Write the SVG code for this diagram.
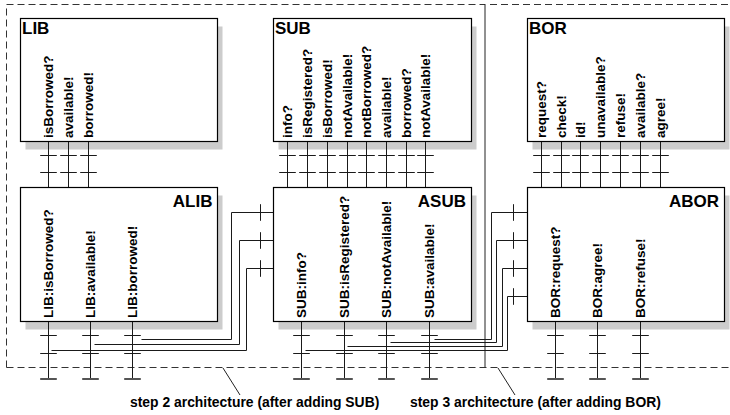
<svg xmlns="http://www.w3.org/2000/svg" width="730" height="415" viewBox="0 0 730 415">
<style>
.shadow{fill:#cccccc;stroke:none}
.box{fill:#ffffff;stroke:#000000;stroke-width:1.2}
.title{font-family:"Liberation Sans",Arial,sans-serif;font-weight:bold;font-size:17px;fill:#000}
.lbl{font-family:"Liberation Sans",Arial,sans-serif;font-weight:bold;font-size:13.5px;fill:#000}
.cap{font-family:"Liberation Sans",Arial,sans-serif;font-weight:bold;font-size:13.9px;fill:#000}
.ln{fill:none;stroke:#1a1a1a;stroke-width:1}
.end{fill:none;stroke:#555555;stroke-width:2}
.dash{fill:none;stroke:#333333;stroke-width:1;stroke-dasharray:7 4}
.solid{fill:none;stroke:#222222;stroke-width:1}
</style>

<g id="boundaries">
  <path class="dash" d="M6.5 367.5 V4.5 H485"/>
  <path class="solid" d="M485 4 V367"/>
  <path class="dash" d="M490 4.5 H730"/>
  <path class="dash" d="M6.5 367.5 H730"/>
  <path class="solid" d="M223 368 L240 395"/>
  <path class="solid" d="M498 368 L515 395"/>
</g>

<g id="shadows">
  <rect class="shadow" x="25.5" y="26.5" width="197" height="123"/>
  <rect class="shadow" x="278.5" y="26.5" width="198" height="123"/>
  <rect class="shadow" x="532.5" y="26.5" width="197" height="123"/>
  <rect class="shadow" x="25.5" y="195.5" width="197" height="134"/>
  <rect class="shadow" x="278.5" y="195.5" width="198" height="134"/>
  <rect class="shadow" x="532.5" y="195.5" width="197" height="134"/>
</g>

<g id="connectors">
  <!-- LIB to ALIB -->
  <path class="ln" d="M48.5 141.5 V187.5 M68.5 141.5 V187.5 M88.5 141.5 V187.5"/>
  <path class="ln" d="M40.2 155.5 H56.8 M60.2 155.5 H76.8 M80.2 155.5 H96.8 M40.2 172.5 H56.8 M60.2 172.5 H76.8 M80.2 172.5 H96.8"/>
  <!-- SUB to ASUB -->
  <path class="ln" d="M287.5 141.5 V187.5 M307.5 141.5 V187.5 M327.5 141.5 V187.5 M347.5 141.5 V187.5 M366.5 141.5 V187.5 M386.5 141.5 V187.5 M406.5 141.5 V187.5 M425.5 141.5 V187.5"/>
  <path class="ln" d="M279.2 155.5 H295.8 M299.2 155.5 H315.8 M319.2 155.5 H335.8 M339.2 155.5 H355.8 M358.2 155.5 H374.8 M378.2 155.5 H394.8 M398.2 155.5 H414.8 M417.2 155.5 H433.8"/>
  <path class="ln" d="M279.2 172.5 H295.8 M299.2 172.5 H315.8 M319.2 172.5 H335.8 M339.2 172.5 H355.8 M358.2 172.5 H374.8 M378.2 172.5 H394.8 M398.2 172.5 H414.8 M417.2 172.5 H433.8"/>
  <!-- BOR to ABOR -->
  <path class="ln" d="M541.5 141.5 V187.5 M561.5 141.5 V187.5 M580.5 141.5 V187.5 M600.5 141.5 V187.5 M620.5 141.5 V187.5 M640.5 141.5 V187.5 M660.5 141.5 V187.5"/>
  <path class="ln" d="M533.2 155.5 H549.8 M553.2 155.5 H569.8 M572.2 155.5 H588.8 M592.2 155.5 H608.8 M612.2 155.5 H628.8 M632.2 155.5 H648.8 M652.2 155.5 H668.8"/>
  <path class="ln" d="M533.2 172.5 H549.8 M553.2 172.5 H569.8 M572.2 172.5 H588.8 M592.2 172.5 H608.8 M612.2 172.5 H628.8 M632.2 172.5 H648.8 M652.2 172.5 H668.8"/>

  <!-- ALIB outputs -->
  <path class="ln" d="M48.5 321.5 V379 M90.5 321.5 V379 M132.5 321.5 V379"/>
  <path class="ln" d="M40.2 335.5 H56.8 M82.2 335.5 H98.8 M124.2 335.5 H140.8 M40.2 353.5 H56.8 M82.2 353.5 H98.8 M124.2 353.5 H140.8"/>
  <path class="end" d="M40.2 379 H56.8 M82.2 379 H98.8 M124.2 379 H140.8"/>
  <!-- ASUB outputs -->
  <path class="ln" d="M301.5 321.5 V379 M344.5 321.5 V379 M386.5 321.5 V379 M429.5 321.5 V379"/>
  <path class="ln" d="M293.2 335.5 H309.8 M336.2 335.5 H352.8 M378.2 335.5 H394.8 M421.2 335.5 H437.8 M293.2 353.5 H309.8 M336.2 353.5 H352.8 M378.2 353.5 H394.8 M421.2 353.5 H437.8"/>
  <path class="end" d="M293.2 379 H309.8 M336.2 379 H352.8 M378.2 379 H394.8 M421.2 379 H437.8"/>
  <!-- ABOR outputs -->
  <path class="ln" d="M555.5 321.5 V379 M597.5 321.5 V379 M640.5 321.5 V379"/>
  <path class="ln" d="M547.2 335.5 H563.8 M589.2 335.5 H605.8 M632.2 335.5 H648.8 M547.2 353.5 H563.8 M589.2 353.5 H605.8 M632.2 353.5 H648.8"/>
  <path class="end" d="M547.2 379 H563.8 M589.2 379 H605.8 M632.2 379 H648.8"/>

  <!-- ALIB to ASUB wiring -->
  <path class="ln" d="M141.5 339.5 H231.5 V212.5 H273.5"/>
  <path class="ln" d="M94.5 344.5 H239.5 V240.5 H273.5"/>
  <path class="ln" d="M51.5 350.5 H246.5 V268.5 H273.5"/>
  <path class="ln" d="M260.5 204.2 V220.8 M260.5 232.2 V248.8 M260.5 260.2 V276.8"/>

  <!-- ASUB to ABOR wiring -->
  <path class="ln" d="M434.5 339.5 H491.5 V212.5 H527.5"/>
  <path class="ln" d="M390.5 342.5 H496.5 V240.5 H527.5"/>
  <path class="ln" d="M347.5 346.5 H502.5 V268.5 H527.5"/>
  <path class="ln" d="M305.5 350.5 H507.5 V296.5 H527.5"/>
  <path class="ln" d="M513.5 204.2 V220.8 M513.5 232.2 V248.8 M513.5 260.2 V276.8 M513.5 288.2 V304.8"/>
</g>

<g id="LIB">
  <rect class="box" x="20.5" y="18.5" width="197" height="123"/>
  <text class="title" x="22" y="33.5">LIB</text>
  <text class="lbl" transform="translate(52.5,138) rotate(-90)">isBorrowed?</text>
  <text class="lbl" transform="translate(72.5,138) rotate(-90)">available!</text>
  <text class="lbl" transform="translate(92.5,138) rotate(-90)">borrowed!</text>
</g>

<g id="SUB">
  <rect class="box" x="273.5" y="18.5" width="198" height="123"/>
  <text class="title" x="275" y="33.5">SUB</text>
  <text class="lbl" transform="translate(291.5,138) rotate(-90)">info?</text>
  <text class="lbl" transform="translate(311.5,138) rotate(-90)">isRegistered?</text>
  <text class="lbl" transform="translate(331.5,138) rotate(-90)">isBorrowed!</text>
  <text class="lbl" transform="translate(351.5,138) rotate(-90)">notAvailable!</text>
  <text class="lbl" transform="translate(370.5,138) rotate(-90)">notBorrowed?</text>
  <text class="lbl" transform="translate(390.5,138) rotate(-90)">available!</text>
  <text class="lbl" transform="translate(410.5,138) rotate(-90)">borrowed?</text>
  <text class="lbl" transform="translate(429.5,138) rotate(-90)">notAvailable!</text>
</g>

<g id="BOR">
  <rect class="box" x="527.5" y="18.5" width="197" height="123"/>
  <text class="title" x="529" y="33.5">BOR</text>
  <text class="lbl" transform="translate(545.5,138) rotate(-90)">request?</text>
  <text class="lbl" transform="translate(565.5,138) rotate(-90)">check!</text>
  <text class="lbl" transform="translate(584.5,138) rotate(-90)">id!</text>
  <text class="lbl" transform="translate(604.5,138) rotate(-90)">unavailable?</text>
  <text class="lbl" transform="translate(624.5,138) rotate(-90)">refuse!</text>
  <text class="lbl" transform="translate(644.5,138) rotate(-90)">available?</text>
  <text class="lbl" transform="translate(664.5,138) rotate(-90)">agree!</text>
</g>

<g id="ALIB">
  <rect class="box" x="20.5" y="187.5" width="197" height="134"/>
  <text class="title" x="212.5" y="207" text-anchor="end">ALIB</text>
  <text class="lbl" transform="translate(52.5,318) rotate(-90)">LIB:isBorrowed?</text>
  <text class="lbl" transform="translate(94.5,318) rotate(-90)">LIB:available!</text>
  <text class="lbl" transform="translate(136.5,318) rotate(-90)">LIB:borrowed!</text>
</g>

<g id="ASUB">
  <rect class="box" x="273.5" y="187.5" width="198" height="134"/>
  <text class="title" x="466" y="207" text-anchor="end">ASUB</text>
  <text class="lbl" transform="translate(305.5,318) rotate(-90)">SUB:info?</text>
  <text class="lbl" transform="translate(348.5,318) rotate(-90)">SUB:isRegistered?</text>
  <text class="lbl" transform="translate(390.5,318) rotate(-90)">SUB:notAvailable!</text>
  <text class="lbl" transform="translate(433.5,318) rotate(-90)">SUB:available!</text>
</g>

<g id="ABOR">
  <rect class="box" x="527.5" y="187.5" width="197" height="134"/>
  <text class="title" x="719" y="207" text-anchor="end">ABOR</text>
  <text class="lbl" transform="translate(559.5,318) rotate(-90)">BOR:request?</text>
  <text class="lbl" transform="translate(601.5,318) rotate(-90)">BOR:agree!</text>
  <text class="lbl" transform="translate(644.5,318) rotate(-90)">BOR:refuse!</text>
</g>

<g id="captions">
  <text class="cap" x="130" y="406.5">step 2 architecture (after adding SUB)</text>
  <text class="cap" x="410" y="406.5">step 3 architecture (after adding BOR)</text>
</g>
</svg>
